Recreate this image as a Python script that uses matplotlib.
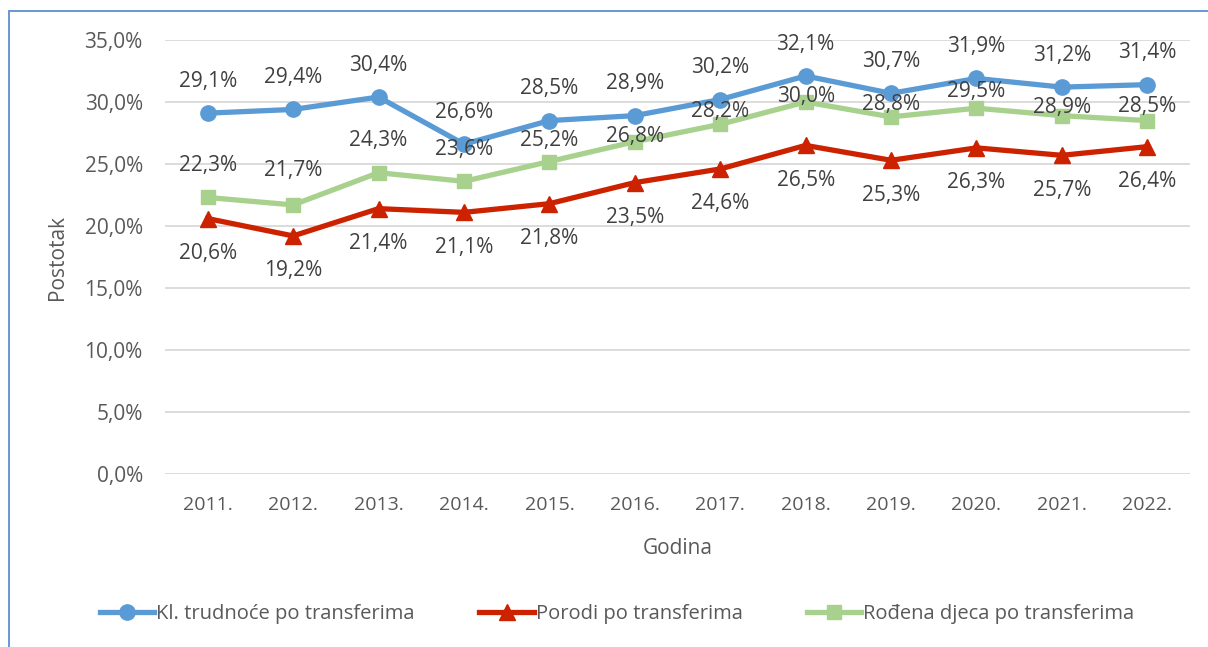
import matplotlib.pyplot as plt
from matplotlib.patches import Rectangle
from matplotlib.ticker import FuncFormatter

plt.rcParams['font.family'] = ['Open Sans', 'DejaVu Sans']

godine = ['2011.', '2012.', '2013.', '2014.', '2015.', '2016.', '2017.', '2018.', '2019.', '2020.', '2021.', '2022.']
trudnoce = [29.1, 29.4, 30.4, 26.6, 28.5, 28.9, 30.2, 32.1, 30.7, 31.9, 31.2, 31.4]
porodi = [20.6, 19.2, 21.4, 21.1, 21.8, 23.5, 24.6, 26.5, 25.3, 26.3, 25.7, 26.4]
djeca = [22.3, 21.7, 24.3, 23.6, 25.2, 26.8, 28.2, 30.0, 28.8, 29.5, 28.9, 28.5]

# pomak natpisa zelene serije (u tockama), rucno kao u originalu
pomak_djeca = [23, 25, 23, 23, 15, 4, 9, 4, 9, 12, 6, 10]

txt = '#404040'
fig = plt.figure(figsize=(12.08, 6.47), dpi=100)
ax = fig.add_axes([165/1208, 1-474/647, (1190-165)/1208, (474-40)/647])

# okvir
fig.patches.append(Rectangle((9/1208, -0.1), 1.2, 1-11/647+0.1, transform=fig.transFigure,
                             fill=False, edgecolor='#5B8FCF', linewidth=1.3))

x = list(range(len(godine)))
ax.plot(x, trudnoce, color='#5B9BD5', lw=3.8, marker='o', ms=11, label='Kl. trudnoće po transferima', zorder=3)
ax.plot(x, porodi, color='#CC2200', lw=3.8, marker='^', ms=12, label='Porodi po transferima', zorder=3)
ax.plot(x, djeca, color='#A9D18E', lw=3.8, marker='s', ms=10, label='Rođena djeca po transferima', zorder=2)

def lab(v):
    return f'{v:.1f}%'.replace('.', ',')

for i in x:
    ax.annotate(lab(trudnoce[i]), (i, trudnoce[i]), xytext=(0, 23), textcoords='offset points',
                ha='center', va='center', fontsize=15, color=txt, zorder=4)
    ax.annotate(lab(djeca[i]), (i, djeca[i]), xytext=(0, pomak_djeca[i]), textcoords='offset points',
                ha='center', va='center', fontsize=15, color=txt, zorder=4)
    ax.annotate(lab(porodi[i]), (i, porodi[i]), xytext=(0, -25), textcoords='offset points',
                ha='center', va='center', fontsize=15, color=txt, zorder=4)

ax.set_xlim(-0.5, len(godine) - 0.5)
ax.set_ylim(0, 35)
ax.set_yticks(range(0, 36, 5))
ax.yaxis.set_major_formatter(FuncFormatter(lambda v, p: lab(v)))
ax.set_xticks(x)
ax.set_xticklabels(godine)
ax.tick_params(length=0, labelcolor='#595959')
ax.tick_params(axis='x', labelsize=14, pad=16)
ax.tick_params(axis='y', labelsize=15, pad=16)
ax.grid(axis='y', color='#D9D9D9', lw=1.3)
ax.set_axisbelow(True)
for s in ax.spines.values():
    s.set_visible(False)

ax.set_ylabel('Postotak', fontsize=15, color='#595959', labelpad=12)
ax.set_xlabel('Godina', fontsize=15, color='#595959', labelpad=17)

fig.legend(loc='center', bbox_to_anchor=(0.511, 1-614/647), ncol=3, frameon=False,
           fontsize=14.5, labelcolor='#595959', handlelength=2.7, handletextpad=0.1, columnspacing=3.2)

fig.savefig('out.png', dpi=100)
